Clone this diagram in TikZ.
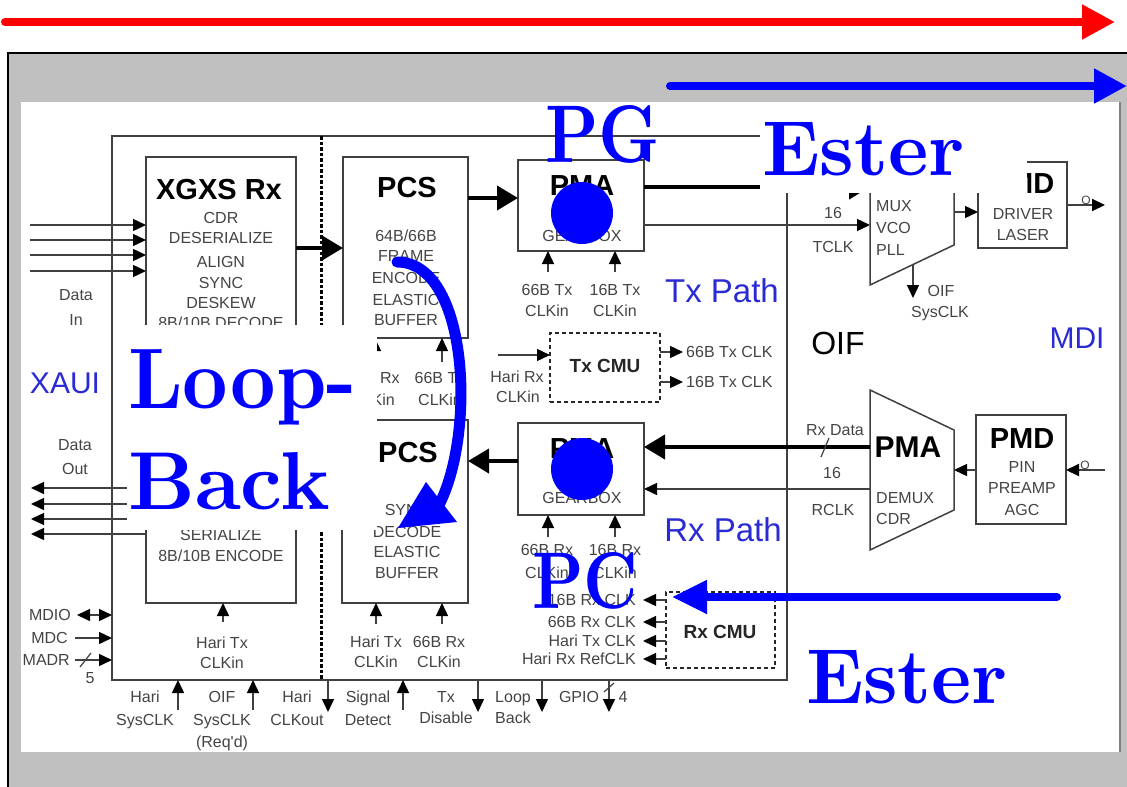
\documentclass[tikz,border=0pt]{standalone}
\usepackage{fontspec}
\usepackage{graphicx}
\newfontfamily\arial{Liberation Sans}
\usetikzlibrary{arrows.meta}
\definecolor{bggray}{HTML}{C0C0C0}
\definecolor{lgray}{HTML}{404040}
\definecolor{tgray}{HTML}{444444}
\definecolor{lblue}{HTML}{2B2BD6}
\newcommand\fsz[1]{\fontsize{#1}{#1}\selectfont}
\begin{document}
\begin{tikzpicture}[x=1pt,y=-1pt,
  box/.style={draw=lgray, line width=1.5pt, inner sep=0pt, outer sep=0pt, anchor=north west},
  cmu/.style={box, draw=black!85, line width=2pt, dash pattern=on 4pt off 3pt},
  txt/.style={font=\arial\fsz{16}, text=tgray, inner sep=0pt, text height=11.5pt, text depth=0pt},
  ttl/.style={font=\arial\bfseries\fsz{29}, text=black, inner sep=0pt, text height=20.8pt, text depth=0pt},
  sttl/.style={font=\arial\bfseries\fsz{19}, text=black!85, inner sep=0pt, text height=13.6pt, text depth=0pt},
  blbl/.style={font=\arial\fsz{30}, text=lblue, inner sep=0pt, text height=21.5pt, text depth=0pt},
  tarr/.style={draw=lgray, line width=1.4pt, -{Triangle[length=13pt,width=12pt,color=black]}},
  karr/.style={draw=black, line width=4pt, -{Triangle[length=21pt,width=24pt]}},
  ovl/.style={inner sep=0pt, outer sep=0pt, text=blue, anchor=base west},
]
\useasboundingbox (0,0) rectangle (1127,787);
% ---------- background ----------
\fill[bggray] (8,53) rectangle (1127,787);
\draw[black, line width=2pt] (8,787) -- (8,53) -- (1127,53);
\fill[white] (21,102) rectangle (1120,752);
\draw[gray, line width=1.5pt] (1120,102) -- (1120,752);
% ---------- boxes ----------
\node[box, minimum width=675pt, minimum height=544pt] (big) at (112,136) {};
\draw[black, line width=3pt, dash pattern=on 3.5pt off 2pt] (321,136) -- (321,680);
\node[box, minimum width=150pt, minimum height=190pt] (xrx) at (146,157) {};
\node[box, minimum width=150pt, minimum height=193pt] (xtx) at (146,410) {};
\node[box, minimum width=125pt, minimum height=181pt] (pcs1) at (343,157) {};
\node[box, minimum width=126pt, minimum height=183pt] (pcs2) at (342,420) {};
\node[box, minimum width=126pt, minimum height=91pt] (pma1) at (518,160) {};
\node[box, minimum width=126pt, minimum height=92pt] (pma2) at (518,423) {};
\node[cmu, minimum width=110pt, minimum height=69pt] (txcmu) at (550,333) {};
\node[cmu, minimum width=109pt, minimum height=76pt] (rxcmu) at (666,592) {};
\node[box, minimum width=89pt, minimum height=86pt] (pmd1) at (978,162) {};
\node[box, minimum width=90pt, minimum height=109pt] (pmd2) at (976,415) {};
\coordinate (tx1) at (870,125); \coordinate (tx2) at (954,165);
\coordinate (tx3) at (954,245); \coordinate (tx4) at (870,285);
\draw[lgray, line width=1.5pt] (tx1) -- (tx2) -- (tx3) -- (tx4) -- cycle;
\coordinate (rx1) at (870,390); \coordinate (rx2) at (954,430);
\coordinate (rx3) at (954,510); \coordinate (rx4) at (870,550);
\draw[lgray, line width=1.5pt] (rx1) -- (rx2) -- (rx3) -- (rx4) -- cycle;
% ---------- titles ----------
\node[ttl] (t-xrx) at (219,189) {XGXS Rx};
\node[ttl] (t-pcs1) at (407,187) {PCS};
\node[ttl] (t-pcs2) at (408,452) {PCS};
\node[ttl] (t-pma1) at (582,185) {PMA};
\node[ttl] (t-pma2) at (582,448) {PMA};
\node[ttl] (t-pmd1) at (1022,183) {PMD};
\node[ttl] (t-pmd2) at (1022,438) {PMD};
\node[ttl, font=\arial\bfseries\fsz{30}] (t-rxpma) at (908,447) {PMA};
\node[sttl] (t-txcmu) at (605,366) {Tx CMU};
\node[sttl] (t-rxcmu) at (720,632) {Rx CMU};
% ---------- box texts ----------
\foreach \y/\t [count=\i] in {218/CDR,238/DESERIALIZE,262/ALIGN,283/SYNC,303/DESKEW,323/{8B/10B DECODE}}
  \node[txt] (xr\i) at (221,\y) {\t};
\node[txt] (xt1) at (221,535) {SERIALIZE};
\node[txt] (xt2) at (221,556) {8B/10B ENCODE};
\foreach \y/\t [count=\i] in {236/{64B/66B},256/FRAME,278/ENCODE,300/ELASTIC,320/BUFFER}
  \node[txt] (pa\i) at (406,\y) {\t};
\foreach \y/\t [count=\i] in {510/SYNC,532/DECODE,552/ELASTIC,573/BUFFER}
  \node[txt] (pb\i) at (407,\y) {\t};
\node[txt] (g1) at (582,236) {GEARBOX};
\node[txt] (g2) at (582,498) {GEARBOX};
\node[txt, anchor=west] (m1) at (876,206) {MUX};
\node[txt, anchor=west] (m2) at (876,228) {VCO};
\node[txt, anchor=west] (m3) at (876,250) {PLL};
\node[txt, anchor=west] (m4) at (876,498) {DEMUX};
\node[txt, anchor=west] (m5) at (876,519) {CDR};
\node[txt] (d1) at (1023,214) {DRIVER};
\node[txt] (d2) at (1023,235) {LASER};
\node[txt] (d3) at (1022,467) {PIN};
\node[txt] (d4) at (1022,488) {PREAMP};
\node[txt] (d5) at (1022,510) {AGC};
% ---------- connectors ----------
\foreach \y [count=\i] in {225,240,255,271} {
  \coordinate (din\i) at (30,\y); \draw[tarr] (din\i) -- (din\i -| xrx.west); }
\foreach \y [count=\i] in {488,504,519,534} {
  \coordinate (dout\i) at (31,\y); \draw[tarr] (dout\i -| xtx.west) -- (dout\i); }
\draw[karr] (xrx.east |- 0,248) -- (pcs1.west |- 0,248);
\draw[karr] (pcs1.east |- 0,198) -- (pma1.west |- 0,198);
\draw[karr] (pma1.east |- 0,187) -- (tx1 |- 0,187);
\draw[tarr] (pma1.east |- 0,225) -- (tx1 |- 0,225);
\draw[tarr] (tx2 |- 0,212) -- (pmd1.west |- 0,212);
\coordinate (o1) at (1105,205); \draw[tarr, line width=2pt] (pmd1.east |- o1) -- (o1);
\coordinate (os0) at (913,265); \coordinate (os1) at (913,298); \draw[tarr] (os0) -- (os1);
\foreach \x [count=\i] in {548,615} {
  \coordinate (ca\i) at (\x,272); \draw[tarr] (ca\i) -- (ca\i |- pma1.south);
  \coordinate (cb\i) at (\x,537); \draw[tarr] (cb\i) -- (cb\i |- pma2.south); }
\foreach \x [count=\i] in {375,442} {
  \coordinate (cc\i) at (\x,362); \draw[tarr] (cc\i) -- (cc\i |- pcs1.south); }
\foreach \x [count=\i] in {376,442} {
  \coordinate (cd\i) at (\x,624); \draw[tarr] (cd\i) -- (cd\i |- pcs2.south); }
\coordinate (ce) at (223,622); \draw[tarr] (ce) -- (ce |- xtx.south);
\coordinate (tc0) at (498,355); \draw[tarr] (tc0) -- (tc0 -| txcmu.west);
\foreach \y [count=\i] in {352,382} {
  \coordinate (tco\i) at (683,\y); \draw[tarr] (tco\i -| txcmu.east) -- (tco\i); }
\foreach \y [count=\i] in {600,622,641,659} {
  \coordinate (rco\i) at (643,\y); \draw[tarr] (rco\i -| rxcmu.west) -- (rco\i); }
\draw[karr] (rx1 |- 0,447) -- (pma2.east |- 0,447);
\draw[tarr] (rx1 |- 0,489) -- (pma2.east |- 0,489);
\draw[lgray, line width=1.2pt] (821,457) -- (829,438);
\draw[tarr] (pmd2.west |- 0,470) -- (rx2 |- 0,470);
\coordinate (i2) at (1105,470); \draw[tarr, line width=2pt] (i2) -- (i2 -| pmd2.east);
\draw[karr] (pma2.west |- 0,461) -- (pcs2.east |- 0,461);
\coordinate (mdio) at (77,615);
\draw[lgray, line width=1.4pt, {Triangle[length=13pt,width=12pt,color=black]}-{Triangle[length=13pt,width=12pt,color=black]}] (mdio) -- (mdio -| big.west);
\coordinate (mdc) at (75,638); \draw[tarr] (mdc) -- (mdc -| big.west);
\coordinate (madr) at (75,660); \draw[tarr] (madr) -- (madr -| big.west);
\draw[lgray, line width=1.2pt] (80,667) -- (91,653);
\foreach \x in {178,253,403} {
  \coordinate (u\x) at (\x,710); \draw[tarr] (u\x) -- (u\x |- big.south); }
\foreach \x in {328,478,542,609} {
  \coordinate (w\x) at (\x,712); \draw[tarr] (w\x |- big.south) -- (w\x); }
\draw[lgray, line width=1.2pt] (604,692) -- (614,683);
% ---------- labels ----------
\node[txt] (l1) at (76,295) {Data};
\node[txt] (l2) at (76,320) {In};
\node[txt] (l3) at (75,445) {Data};
\node[txt] (l4) at (75,469) {Out};
\node[txt] (l5) at (373,378) {Hari Rx};
\node[txt] (l6) at (373,400) {CLKin};
\node[txt] (l7) at (440,378) {66B Tx};
\node[txt] (l8) at (440,400) {CLKin};
\node[txt] (l9) at (547,290) {66B Tx};
\node[txt] (l10) at (547,311) {CLKin};
\node[txt] (l11) at (615,290) {16B Tx};
\node[txt] (l12) at (615,311) {CLKin};
\node[txt] (l13) at (517,377) {Hari Rx};
\node[txt] (l14) at (518,397) {CLKin};
\node[txt, anchor=west] (l15) at (686,352) {66B Tx CLK};
\node[txt, anchor=west] (l16) at (686,382) {16B Tx CLK};
\node[txt] (l17) at (547,550) {66B Rx};
\node[txt] (l18) at (547,573) {CLKin};
\node[txt] (l19) at (615,550) {16B Rx};
\node[txt] (l20) at (615,573) {CLKin};
\node[txt] (l21) at (376,642) {Hari Tx};
\node[txt] (l22) at (376,662) {CLKin};
\node[txt] (l23) at (439,642) {66B Rx};
\node[txt] (l24) at (439,662) {CLKin};
\node[txt] (l25) at (222,643) {Hari Tx};
\node[txt] (l26) at (222,663) {CLKin};
\node[txt, anchor=east] (l27) at (636,600) {16B Rx CLK};
\node[txt, anchor=east] (l28) at (636,622) {66B Rx CLK};
\node[txt, anchor=east] (l29) at (636,641) {Hari Tx CLK};
\node[txt, anchor=east] (l30) at (636,659) {Hari Rx RefCLK};
\node[txt] (l31) at (833,213) {16};
\node[txt] (l32) at (833,247) {TCLK};
\node[txt] (l33) at (941,291) {OIF};
\node[txt] (l34) at (940,312) {SysCLK};
\node[txt] (l35) at (835,430) {Rx Data};
\node[txt] (l36) at (832,473) {16};
\node[txt] (l37) at (833,510) {RCLK};
\node[txt, font=\arial\fsz{12}, text height=8.6pt] (l38) at (1086,200) {O};
\node[txt, font=\arial\fsz{12}, text height=8.6pt] (l39) at (1085,465) {O};
\node[txt, anchor=east] (l40) at (71,615) {MDIO};
\node[txt, anchor=east] (l41) at (68,638) {MDC};
\node[txt, anchor=east] (l42) at (70,660) {MADR};
\node[txt] (l43) at (90,678) {5};
\node[txt] (l44) at (145,697) {Hari};
\node[txt] (l45) at (145,720) {SysCLK};
\node[txt] (l46) at (222,697) {OIF};
\node[txt] (l47) at (222,720) {SysCLK};
\node[txt] (l48) at (222,742) {(Req'd)};
\node[txt] (l49) at (297,697) {Hari};
\node[txt] (l50) at (297,720) {CLKout};
\node[txt] (l51) at (368,697) {Signal};
\node[txt] (l52) at (368,720) {Detect};
\node[txt] (l53) at (446,697) {Tx};
\node[txt] (l54) at (446,718) {Disable};
\node[txt] (l55) at (513,697) {Loop};
\node[txt] (l56) at (513,718) {Back};
\node[txt] (l57) at (579,697) {GPIO};
\node[txt] (l58) at (623,697) {4};
\node[blbl] (xaui) at (65,383) {XAUI};
\node[blbl, font=\arial\fsz{33}, text height=23.6pt] (txp) at (722,291) {Tx Path};
\node[blbl, font=\arial\fsz{33}, text height=23.6pt] (rxp) at (723,530) {Rx Path};
\node[blbl, text=black, font=\arial\fsz{32}, text height=22.9pt] (oif) at (838,343) {OIF};
\node[blbl] (mdi) at (1077,338) {MDI};
% ---------- overlay ----------
\draw[red, line width=8pt, line cap=round, -{Triangle[length=33pt,width=33pt]}] (5,22) coordinate (ra) -- (1115,22) coordinate (rb);
\draw[blue, line width=8pt, line cap=round, -{Triangle[length=33pt,width=33pt]}] (670,86) coordinate (ba) -- (1127,86) coordinate (bb);
\fill[white] (760,104) rectangle (1027,193);
\node[ovl] (ester1) at (762,175) {\resizebox{203pt}{53pt}{\bfseries Ester}};
\node[ovl] (pg) at (545,162) {\resizebox{115pt}{57pt}{\bfseries PG}};
\fill[blue] (582,213) circle (31pt);
\fill[blue] (582,469) circle (31pt);
\fill[white] (127,325) rectangle (377,530);
\node[ovl] (loop) at (128,408) {\resizebox{229pt}{59pt}{\bfseries Loop-}};
\node[ovl] (back) at (128,509) {\resizebox{202pt}{57pt}{\bfseries Back}};
\draw[blue, line width=11pt, line cap=round] (397,262) .. controls (468,262) and (476,430) .. (440,503);
\fill[blue] (398,528) -- (426,482) -- (457,522) -- cycle;
\node[ovl] (pc) at (532,608) {\resizebox{106pt}{56pt}{\bfseries PC}};
\draw[blue, line width=8pt, line cap=round, -{Triangle[length=35pt,width=32pt]}] (1057,597) coordinate (ca) -- (672,597) coordinate (cb);
\node[ovl] (ester2) at (806,703) {\resizebox{202pt}{53pt}{\bfseries Ester}};
\end{tikzpicture}
\end{document}
